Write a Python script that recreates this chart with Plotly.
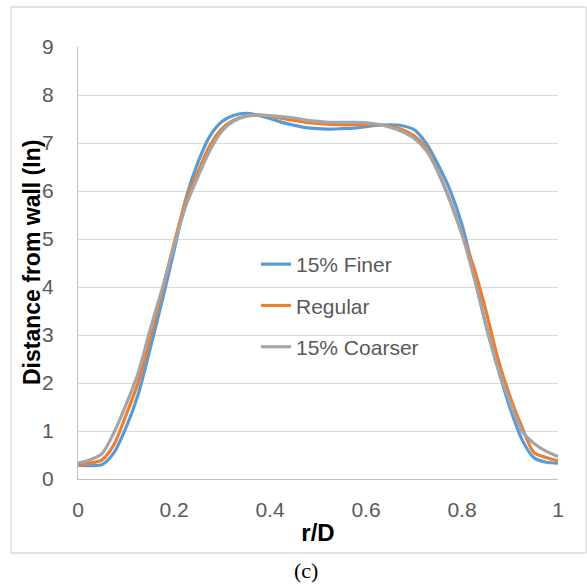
import plotly.graph_objects as go

r_over_d = [0.0, 0.025, 0.05, 0.075, 0.10, 0.125, 0.15, 0.175, 0.20, 0.225,
            0.25, 0.275, 0.30, 0.325, 0.35, 0.375, 0.40, 0.425, 0.45, 0.475,
            0.50, 0.525, 0.55, 0.575, 0.60, 0.625, 0.65, 0.675, 0.70, 0.725,
            0.75, 0.775, 0.80, 0.825, 0.85, 0.875, 0.90, 0.925, 0.95, 0.975, 1.0]
finer = [0.29, 0.28, 0.30, 0.55, 1.07, 1.75, 2.70, 3.70, 4.75, 5.85,
         6.60, 7.15, 7.45, 7.58, 7.62, 7.58, 7.51, 7.43, 7.37, 7.32,
         7.30, 7.29, 7.30, 7.31, 7.34, 7.37, 7.38, 7.36, 7.28, 7.00,
         6.55, 6.02, 5.30, 4.28, 3.20, 2.30, 1.48, 0.82, 0.44, 0.35, 0.33]
regular = [0.30, 0.33, 0.40, 0.72, 1.33, 2.00, 2.92, 3.90, 4.90, 5.80,
           6.40, 6.95, 7.30, 7.48, 7.56, 7.58, 7.56, 7.51, 7.47, 7.43,
           7.41, 7.39, 7.38, 7.38, 7.38, 7.38, 7.35, 7.28, 7.15, 6.90,
           6.40, 5.80, 5.10, 4.40, 3.50, 2.50, 1.72, 1.08, 0.55, 0.45, 0.38]
coarser = [0.33, 0.40, 0.53, 0.97, 1.55, 2.20, 3.10, 3.95, 4.85, 5.70,
           6.30, 6.85, 7.25, 7.46, 7.56, 7.58, 7.57, 7.55, 7.52, 7.48,
           7.45, 7.43, 7.43, 7.43, 7.42, 7.39, 7.33, 7.24, 7.10, 6.85,
           6.40, 5.80, 5.10, 4.20, 3.20, 2.30, 1.60, 1.00, 0.74, 0.58, 0.47]

series_names = ["15% Finer", "Regular", "15% Coarser"]
series_values = [finer, regular, coarser]
series_colors = ["#5B9BD5", "#ED7D31", "#A5A5A5"]

x_ticks = [0, 0.2, 0.4, 0.6, 0.8, 1]
x_ticklabels = ["0", "0.2", "0.4", "0.6", "0.8", "1"]
y_ticks = list(range(0, 10))

fig = go.Figure()
for i, (name, vals, col) in enumerate(zip(series_names, series_values, series_colors)):
    fig.add_trace(go.Scatter(
        x=r_over_d, y=vals, name=name, mode="lines",
        line=dict(color=col, width=3.2, shape="spline", smoothing=0.8),
        legendgroup=f"g{i}",
    ))

tick_font = dict(family="Liberation Sans", size=21, color="#595959")

fig.update_layout(
    width=587, height=586,
    margin=dict(l=78, r=29, t=47, b=107, autoexpand=False),
    paper_bgcolor="white", plot_bgcolor="white",
    showlegend=True,
    legend=dict(
        x=(256 - 78) / 480, y=(479 - 244) / 432, xref="paper", yref="paper",
        xanchor="left", yanchor="top",
        font=dict(family="Liberation Sans", size=21, color="#595959"),
        traceorder="grouped", tracegroupgap=11,
        bgcolor="rgba(0,0,0,0)", itemwidth=30,
    ),
    xaxis=dict(
        range=[0, 1], tickvals=x_ticks, ticktext=x_ticklabels,
        showgrid=False, zeroline=False,
        showline=True, linecolor="#BFBFBF", linewidth=1.3,
        ticks="", tickfont=tick_font, ticklabelstandoff=12,
        automargin=False,
        title=dict(text="<b>r/D</b>", font=dict(family="Liberation Sans", size=24, color="black"),
                   standoff=3),
    ),
    yaxis=dict(
        range=[0, 9], tickvals=y_ticks,
        showgrid=True, gridcolor="#D9D9D9", gridwidth=1.3,
        zeroline=False,
        showline=True, linecolor="#BFBFBF", linewidth=1.3,
        ticks="", tickfont=tick_font, ticklabelstandoff=19,
        automargin=False,
    ),
    shapes=[
        dict(type="rect", xref="paper", yref="paper",
             x0=(11 - 78) / 480, x1=(586 - 78) / 480,
             y0=(479 - 553) / 432, y1=(479 - 7) / 432,
             line=dict(color="#D9D9D9", width=1.3), fillcolor="rgba(0,0,0,0)", layer="below"),
    ],
    annotations=[
        dict(text="<b>Distance from wall (In)</b>", xref="paper", yref="paper",
             x=(32 - 78) / 480, y=0.5, textangle=-90,
             xanchor="center", yanchor="middle", showarrow=False,
             font=dict(family="Liberation Sans", size=23, color="black")),
        dict(text="(c)", xref="paper", yref="paper",
             x=(306 - 78) / 480, y=(479 - 570) / 432,
             xanchor="center", yanchor="middle", showarrow=False,
             font=dict(family="Liberation Serif", size=22, color="black")),
    ],
)

fig.write_html("out.html")
